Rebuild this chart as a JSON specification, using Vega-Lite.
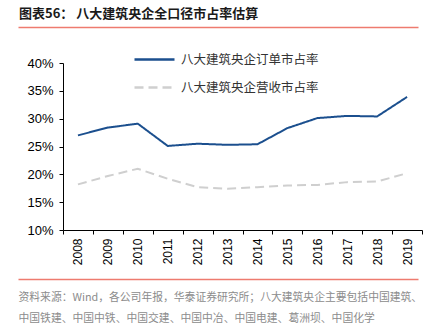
{
  "$schema": "https://vega.github.io/schema/vega-lite/v6.json",
  "width": 359,
  "height": 167,
  "autosize": {"type": "none"},
  "padding": {"left": 63, "top": 63, "right": 19, "bottom": 93},
  "background": "white",
  "config": {"view": {"stroke": null}},
  "title": {
    "text": "图表56： 八大建筑央企全口径市占率估算",
    "anchor": "start",
    "frame": "group",
    "dx": -44,
    "offset": 6,
    "font": "Noto Sans CJK SC",
    "fontSize": 13,
    "fontWeight": "bold",
    "color": "#1a1a1a"
  },
  "data": {
    "values": [
      {"year": "2008", "series": "八大建筑央企订单市占率", "value": 0.270},
      {"year": "2009", "series": "八大建筑央企订单市占率", "value": 0.284},
      {"year": "2010", "series": "八大建筑央企订单市占率", "value": 0.291},
      {"year": "2011", "series": "八大建筑央企订单市占率", "value": 0.251},
      {"year": "2012", "series": "八大建筑央企订单市占率", "value": 0.255},
      {"year": "2013", "series": "八大建筑央企订单市占率", "value": 0.253},
      {"year": "2014", "series": "八大建筑央企订单市占率", "value": 0.254},
      {"year": "2015", "series": "八大建筑央企订单市占率", "value": 0.283},
      {"year": "2016", "series": "八大建筑央企订单市占率", "value": 0.301},
      {"year": "2017", "series": "八大建筑央企订单市占率", "value": 0.305},
      {"year": "2018", "series": "八大建筑央企订单市占率", "value": 0.304},
      {"year": "2019", "series": "八大建筑央企订单市占率", "value": 0.339},
      {"year": "2008", "series": "八大建筑央企营收市占率", "value": 0.182},
      {"year": "2009", "series": "八大建筑央企营收市占率", "value": 0.197},
      {"year": "2010", "series": "八大建筑央企营收市占率", "value": 0.210},
      {"year": "2011", "series": "八大建筑央企营收市占率", "value": 0.192},
      {"year": "2012", "series": "八大建筑央企营收市占率", "value": 0.177},
      {"year": "2013", "series": "八大建筑央企营收市占率", "value": 0.174},
      {"year": "2014", "series": "八大建筑央企营收市占率", "value": 0.177},
      {"year": "2015", "series": "八大建筑央企营收市占率", "value": 0.180},
      {"year": "2016", "series": "八大建筑央企营收市占率", "value": 0.181},
      {"year": "2017", "series": "八大建筑央企营收市占率", "value": 0.186},
      {"year": "2018", "series": "八大建筑央企营收市占率", "value": 0.187},
      {"year": "2019", "series": "八大建筑央企营收市占率", "value": 0.202}
    ]
  },
  "layer": [
    {
      "mark": {"type": "line", "strokeWidth": 2},
      "encoding": {
        "x": {
          "field": "year", "type": "ordinal",
          "scale": {"type": "band", "paddingInner": 0, "paddingOuter": 0},
          "axis": {
            "orient": "bottom", "title": null, "labelAngle": -90, "labelAlign": "right", "labelBaseline": "middle",
            "labelFont": "Liberation Sans", "labelFontSize": 12, "labelColor": "#000", "labelPadding": 4,
            "tickBand": "extent", "tickSize": 4, "tickColor": "#000", "domainColor": "#000", "grid": false
          }
        },
        "y": {
          "field": "value", "type": "quantitative",
          "scale": {"domain": [0.1, 0.4], "nice": false, "zero": false},
          "axis": {
            "title": null, "values": [0.1, 0.15, 0.2, 0.25, 0.3, 0.35, 0.4], "format": ".0%", "labelOverlap": false,
            "labelFont": "Liberation Sans", "labelFontSize": 13, "labelColor": "#000", "labelPadding": 6,
            "tickSize": 4, "tickColor": "#000", "domainColor": "#000", "grid": false
          }
        },
        "color": {
          "field": "series", "type": "nominal",
          "scale": {"domain": ["八大建筑央企订单市占率", "八大建筑央企营收市占率"], "range": ["#1B4F8E", "#CFCFCF"]},
          "legend": {
            "title": null, "orient": "none", "legendX": 70, "legendY": -25,
            "symbolType": "stroke", "symbolSize": 1600, "symbolStrokeWidth": 2.5,
            "labelFont": "Noto Sans CJK SC", "labelFontSize": 12.5, "labelColor": "#333", "labelOffset": 5,
            "rowPadding": -16
          }
        },
        "strokeDash": {
          "field": "series", "type": "nominal",
          "scale": {"domain": ["八大建筑央企订单市占率", "八大建筑央企营收市占率"], "range": [[1, 0], [9, 5]]},
          "legend": {
            "title": null, "orient": "none", "legendX": 70, "legendY": -25,
            "symbolType": "stroke", "symbolSize": 1600, "symbolStrokeWidth": 2.5,
            "labelFont": "Noto Sans CJK SC", "labelFontSize": 12.5, "labelColor": "#333", "labelOffset": 5,
            "rowPadding": -16
          }
        }
      }
    },
    {
      "mark": {"type": "line", "strokeOpacity": 0},
      "encoding": {
        "x": {
          "field": "year", "type": "ordinal",
          "scale": {"type": "band", "range": [-45, 355]},
          "axis": {"orient": "top", "offset": 36, "title": null, "labels": false, "ticks": false, "domainColor": "#EE7B6F", "domainWidth": 1.5}
        }
      }
    },
    {
      "mark": {"type": "line", "strokeOpacity": 0},
      "encoding": {
        "x": {
          "field": "year", "type": "ordinal",
          "scale": {"type": "band", "range": [-45, 355]},
          "axis": {
            "orient": "bottom", "offset": 49, "labels": false, "ticks": false, "domainColor": "#EE7B6F", "domainWidth": 1.5,
            "title": ["资料来源：Wind，各公司年报，华泰证券研究所；八大建筑央企主要包括中国建筑、", "中国铁建、中国中铁、中国交建、中国中冶、中国电建、葛洲坝、中国化学"],
            "titleAnchor": "start", "titleAlign": "left", "titleBaseline": "alphabetic", "titleX": -45, "titleY": 21,
            "titleLineHeight": 21, "titleFont": "Noto Sans CJK SC", "titleFontSize": 10.8, "titleFontWeight": "normal", "titleColor": "#8c8c8c"
          }
        }
      }
    }
  ],
  "resolve": {"scale": {"x": "independent"}, "axis": {"x": "independent"}}
}
